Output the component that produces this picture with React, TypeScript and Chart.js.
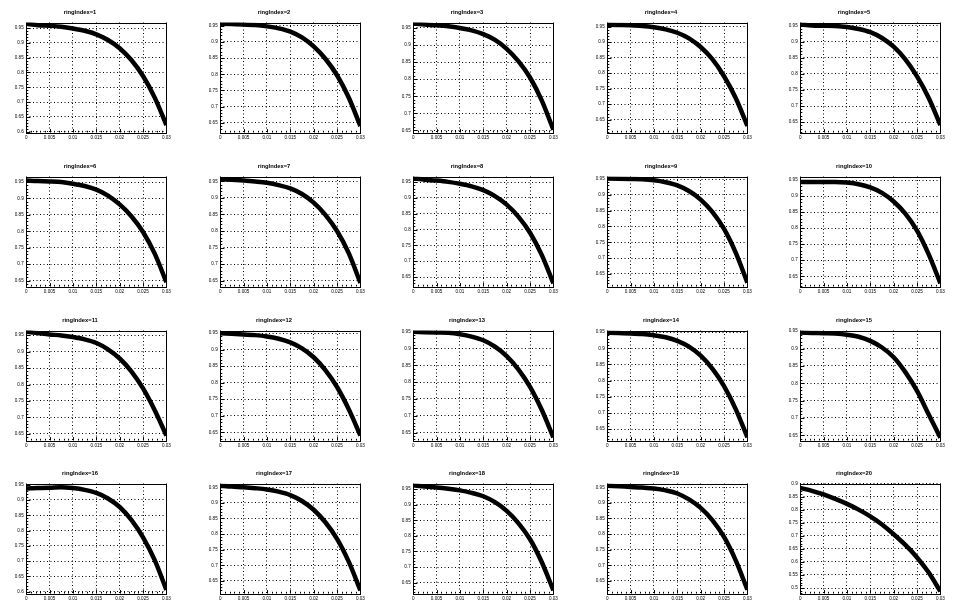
import React, { useEffect, useRef } from "react";
import { Chart, registerables } from "chart.js";
Chart.register(...registerables);

// sample positions (x axis)
const xValues = [0, 0.0025, 0.005, 0.0075, 0.01, 0.0125, 0.015, 0.0175, 0.02, 0.0225, 0.025, 0.0275, 0.03];
const xTickValues = [0, 0.005, 0.01, 0.015, 0.02, 0.025, 0.03];
const xTickLabels = ["0", "0.005", "0.01", "0.015", "0.02", "0.025", "0.03"];

// per-ring curves
const ring1 = [0.965, 0.96, 0.958, 0.955, 0.949, 0.941, 0.929, 0.91, 0.882, 0.842, 0.788, 0.715, 0.622];
const ring2 = [0.956, 0.955, 0.954, 0.952, 0.948, 0.942, 0.932, 0.914, 0.886, 0.848, 0.797, 0.728, 0.64];
const ring3 = [0.963, 0.96, 0.958, 0.955, 0.95, 0.943, 0.932, 0.915, 0.889, 0.853, 0.805, 0.738, 0.652];
const ring4 = [0.956, 0.955, 0.954, 0.952, 0.948, 0.941, 0.93, 0.912, 0.884, 0.845, 0.79, 0.72, 0.63];
const ring5 = [0.953, 0.95, 0.949, 0.948, 0.945, 0.939, 0.929, 0.911, 0.884, 0.845, 0.792, 0.725, 0.641];
const ring6 = [0.955, 0.953, 0.952, 0.95, 0.945, 0.938, 0.927, 0.909, 0.882, 0.846, 0.798, 0.732, 0.645];
const ring7 = [0.957, 0.955, 0.953, 0.95, 0.946, 0.939, 0.929, 0.912, 0.886, 0.849, 0.8, 0.733, 0.643];
const ring8 = [0.962, 0.958, 0.955, 0.951, 0.945, 0.937, 0.925, 0.906, 0.879, 0.841, 0.79, 0.72, 0.63];
const ring9 = [0.952, 0.951, 0.95, 0.949, 0.946, 0.94, 0.93, 0.912, 0.885, 0.846, 0.792, 0.717, 0.622];
const ring10 = [0.944, 0.944, 0.944, 0.944, 0.942, 0.937, 0.927, 0.91, 0.883, 0.845, 0.792, 0.718, 0.628];
const ring11 = [0.96, 0.956, 0.952, 0.949, 0.944, 0.937, 0.926, 0.907, 0.879, 0.84, 0.788, 0.722, 0.645];
const ring12 = [0.95, 0.948, 0.946, 0.944, 0.94, 0.933, 0.922, 0.904, 0.877, 0.838, 0.787, 0.72, 0.64];
const ring13 = [0.949, 0.948, 0.947, 0.946, 0.942, 0.935, 0.924, 0.905, 0.877, 0.838, 0.786, 0.718, 0.636];
const ring14 = [0.948, 0.947, 0.946, 0.944, 0.94, 0.934, 0.923, 0.905, 0.877, 0.837, 0.783, 0.712, 0.625];
const ring15 = [0.946, 0.945, 0.944, 0.943, 0.94, 0.934, 0.922, 0.903, 0.875, 0.832, 0.778, 0.71, 0.643];
const ring16 = [0.938, 0.939, 0.94, 0.942, 0.939, 0.933, 0.923, 0.905, 0.877, 0.835, 0.778, 0.703, 0.606];
const ring17 = [0.955, 0.952, 0.95, 0.947, 0.943, 0.936, 0.925, 0.906, 0.878, 0.838, 0.785, 0.712, 0.62];
const ring18 = [0.962, 0.958, 0.955, 0.951, 0.946, 0.938, 0.927, 0.908, 0.88, 0.841, 0.789, 0.716, 0.625];
const ring19 = [0.955, 0.953, 0.951, 0.949, 0.946, 0.94, 0.93, 0.911, 0.884, 0.845, 0.791, 0.716, 0.622];
const ring20 = [0.883, 0.872, 0.858, 0.841, 0.822, 0.8, 0.774, 0.743, 0.706, 0.665, 0.617, 0.559, 0.487];

const rings = [ring1, ring2, ring3, ring4, ring5, ring6, ring7, ring8, ring9, ring10,
  ring11, ring12, ring13, ring14, ring15, ring16, ring17, ring18, ring19, ring20];

// per-pad y axis ranges
const yMins = [0.597, 0.62, 0.644, 0.609, 0.618, 0.632, 0.632, 0.62, 0.61, 0.618,
  0.63, 0.625, 0.627, 0.615, 0.635, 0.594, 0.61, 0.615, 0.61, 0.479];
const yMaxs = [0.969, 0.96, 0.966, 0.963, 0.959, 0.967, 0.965, 0.968, 0.958, 0.961,
  0.964, 0.958, 0.953, 0.955, 0.952, 0.954, 0.962, 0.968, 0.962, 0.9];

const PAD_W = 193.6;
const PAD_H = 153.75;
const CANVAS_W = 194;
const CANVAS_H = 154;
const FRAME_L = 26.2;
const FRAME_R = 166.4;
const FRAME_T = 22.5;
const FRAME_B = 132.5;

function yTicksFor(min: number, max: number): number[] {
  const out: number[] = [];
  const k0 = Math.ceil(min / 0.05 - 1e-9);
  const k1 = Math.floor(max / 0.05 + 1e-9);
  for (let k = k0; k <= k1; k++) out.push(Number((k * 0.05).toFixed(2)));
  return out;
}

const frameTicksPlugin = {
  id: "frameTicks",
  afterDraw(chart: any) {
    const { ctx, chartArea } = chart;
    const xs = chart.scales.x;
    const ys = chart.scales.y;
    const { left, right, top, bottom } = chartArea;
    ctx.save();
    ctx.strokeStyle = "#000";
    ctx.lineWidth = 1;
    ctx.setLineDash([]);
    ctx.beginPath();
    // x ticks (inward)
    for (let i = 0; i <= 30; i++) {
      const v = i * 0.001;
      const px = Math.round(xs.getPixelForValue(v)) + 0.5;
      const len = i % 5 === 0 ? 3.4 : 1.7;
      ctx.moveTo(px, bottom);
      ctx.lineTo(px, bottom - len);
    }
    // y ticks (inward)
    const ymin = ys.min, ymax = ys.max;
    const k0 = Math.ceil(ymin / 0.01 - 1e-9);
    const k1 = Math.floor(ymax / 0.01 + 1e-9);
    for (let k = k0; k <= k1; k++) {
      const v = k * 0.01;
      const py = Math.round(ys.getPixelForValue(v)) + 0.5;
      const len = k % 5 === 0 ? 4.2 : 2.1;
      ctx.moveTo(left, py);
      ctx.lineTo(left + len, py);
    }
    ctx.stroke();
    ctx.strokeRect(Math.round(left) + 0.5, Math.round(top) + 0.5, Math.round(right - left), Math.round(bottom - top));
    ctx.restore();
  },
};

function Pad({ index }: { index: number }) {
  const ref = useRef<HTMLCanvasElement | null>(null);
  useEffect(() => {
    if (!ref.current) return;
    const values = rings[index];
    const yMin = yMins[index];
    const yMax = yMaxs[index];
    const yTicks = yTicksFor(yMin, yMax);
    const chart = new Chart(ref.current, {
      type: "line",
      data: {
        datasets: [
          {
            data: xValues.map((x, i) => ({ x, y: values[i] })),
            borderColor: "#000",
            backgroundColor: "#000",
            borderWidth: 4.5,
            pointRadius: 0,
            cubicInterpolationMode: "monotone",
          } as any,
        ],
      },
      options: {
        responsive: false,
        animation: false,
        devicePixelRatio: 1,
        layout: { padding: { left: 0, top: FRAME_T, right: CANVAS_W - FRAME_R, bottom: 0 } },
        plugins: { legend: { display: false }, tooltip: { enabled: false }, title: { display: false } },
        scales: {
          x: {
            type: "linear",
            min: 0,
            max: 0.03,
            afterBuildTicks: (s: any) => {
              s.ticks = xTickValues.map((v) => ({ value: v }));
            },
            afterFit: (s: any) => {
              s.height = CANVAS_H - FRAME_B;
            },
            grid: { color: "#000", lineWidth: 1, drawTicks: false },
            border: { display: false, dash: [1, 2.5] },
            ticks: {
              padding: 2.5,
              color: "#000",
              autoSkip: false,
              maxRotation: 0,
              font: { family: "'Liberation Sans', Arial, sans-serif", size: 4.6 },
              callback: (_v: any, i: number) => xTickLabels[i],
            },
          },
          y: {
            type: "linear",
            min: yMin,
            max: yMax,
            afterBuildTicks: (s: any) => {
              s.ticks = yTicks.map((v) => ({ value: v }));
            },
            afterFit: (s: any) => {
              s.width = FRAME_L;
            },
            grid: { color: "#000", lineWidth: 1, drawTicks: false },
            border: { display: false, dash: [1, 2.5] },
            ticks: {
              padding: 2.5,
              color: "#000",
              autoSkip: false,
              font: { family: "'Liberation Sans', Arial, sans-serif", size: 4.6 },
              callback: (_v: any, i: number) => String(yTicks[i]),
            },
          },
        },
      } as any,
      plugins: [frameTicksPlugin],
    });
    return () => chart.destroy();
  }, [index]);
  const col = index % 5;
  const row = Math.floor(index / 5);
  const left = Math.round(col * PAD_W);
  const top = Math.round(row * PAD_H);
  return (
    <>
      <canvas
        ref={ref}
        width={CANVAS_W}
        height={CANVAS_H}
        style={{ position: "absolute", left, top, width: CANVAS_W, height: CANVAS_H }}
      />
      <div
        style={{
          position: "absolute",
          left: left + 40,
          top: top + 8,
          width: 80,
          textAlign: "center",
          fontFamily: "'Liberation Sans', Arial, sans-serif",
          fontWeight: "bold",
          fontSize: "5.8px",
          lineHeight: "8px",
          color: "#000",
        }}
      >
        {"ringIndex=" + (index + 1)}
      </div>
    </>
  );
}

export default function App() {
  return (
    <div style={{ position: "fixed", left: 0, top: 0, width: 968, height: 615, background: "#fff", overflow: "hidden" }}>
      {rings.map((_, i) => (
        <Pad key={i} index={i} />
      ))}
    </div>
  );
}
